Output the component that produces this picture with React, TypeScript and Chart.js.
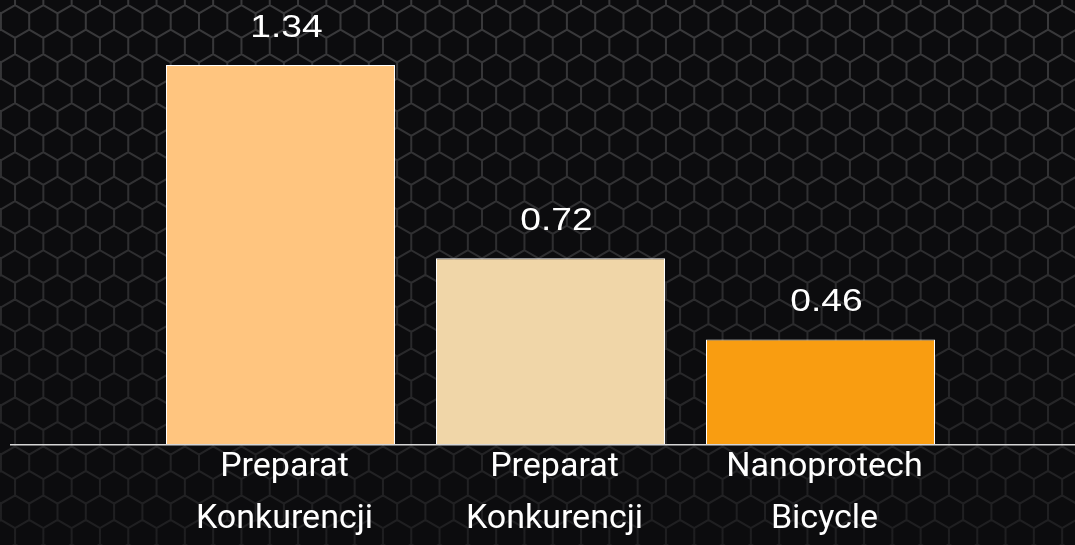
import React, { useEffect, useRef } from 'react';
import { Chart, registerables } from 'chart.js';

Chart.register(...registerables);

// ---- data ----
const categories: string[][] = [
  ['Preparat', 'Konkurencji'],
  ['Preparat', 'Konkurencji'],
  ['Nanoprotech', 'Bicycle'],
];
const values: number[] = [1.34, 0.72, 0.46];
const barColors: string[] = ['#FFC57F', '#F0D6A8', '#F99D11'];
const yMin = 0.125;
const yMax = 1.5;

// ---- decorative hexagon background ----
const hexBackground = {
  id: 'hexBackground',
  beforeDraw(chart: any) {
    const { ctx, width, height } = chart;
    ctx.save();
    ctx.fillStyle = '#0c0c0e';
    ctx.fillRect(0, 0, width, height);
    const W = 28.3;
    const a = W / Math.sqrt(3);
    const H = 1.5 * a;
    const x0 = 0.9;
    const y0 = -3;
    const grad = ctx.createLinearGradient(0, 0, 0, height);
    grad.addColorStop(0, '#3a3a3c');
    grad.addColorStop(0.55, '#2c2c2e');
    grad.addColorStop(1, '#1e1e20');
    ctx.strokeStyle = grad;
    ctx.lineWidth = 2;
    ctx.beginPath();
    for (let r = -1; y0 + r * H < height + a; r++) {
      const cy = y0 + r * H;
      const off = Math.abs(r) % 2 === 1 ? W / 2 : 0;
      for (let c = -1; x0 + off + c * W < width + W; c++) {
        const cx = x0 + off + c * W;
        ctx.moveTo(cx, cy - a);
        ctx.lineTo(cx + W / 2, cy - a / 2);
        ctx.lineTo(cx + W / 2, cy + a / 2);
        ctx.lineTo(cx, cy + a);
        ctx.lineTo(cx - W / 2, cy + a / 2);
        ctx.lineTo(cx - W / 2, cy - a / 2);
        ctx.closePath();
      }
    }
    ctx.stroke();
    ctx.restore();
  },
  afterDatasetsDraw(chart: any) {
    const { ctx, chartArea, width } = chart;
    ctx.save();
    // baseline across the picture
    ctx.strokeStyle = '#d6d6d6';
    ctx.lineWidth = 1.5;
    ctx.beginPath();
    ctx.moveTo(10, chartArea.bottom + 0.75);
    ctx.lineTo(width, chartArea.bottom + 0.75);
    ctx.stroke();
    // value labels
    const meta = chart.getDatasetMeta(0);
    meta.data.forEach((bar: any, i: number) => {
      ctx.save();
      ctx.font = '31px "Liberation Sans", Arial, sans-serif';
      ctx.fillStyle = '#ffffff';
      ctx.textAlign = 'center';
      ctx.textBaseline = 'alphabetic';
      ctx.translate(bar.x + 6, bar.y - 28);
      ctx.scale(1.2, 1);
      ctx.fillText(values[i].toFixed(2), 0, 0);
      ctx.restore();
    });
    ctx.restore();
  },
};

export default function App() {
  const canvasRef = useRef<HTMLCanvasElement | null>(null);

  useEffect(() => {
    if (!canvasRef.current) return;
    const chart = new Chart(canvasRef.current, {
      type: 'bar',
      data: {
        labels: categories,
        datasets: [
          {
            data: values,
            backgroundColor: barColors,
            borderColor: '#ffffff',
            borderWidth: 1,
            categoryPercentage: 1,
            barPercentage: 229 / 270,
          },
        ],
      },
      options: {
        animation: false,
        responsive: true,
        maintainAspectRatio: false,
        layout: { padding: { left: 145.5, right: 119.5, top: 15, bottom: 0 } },
        plugins: {
          legend: { display: false },
          tooltip: { enabled: false },
          title: { display: false },
        },
        scales: {
          y: { display: false, min: yMin, max: yMax },
          x: {
            grid: { display: false, drawTicks: false },
            border: { display: false },
            ticks: {
              color: '#ffffff',
              font: { family: 'Roboto', size: 34, weight: '400', lineHeight: 52 / 34 },
              padding: -3,
              labelOffset: 4,
              maxRotation: 0,
              autoSkip: false,
            },
            afterFit: (scale: any) => {
              scale.height = 101;
            },
          },
        },
      },
      plugins: [hexBackground],
    });
    return () => chart.destroy();
  }, []);

  return (
    <div style={{ position: 'fixed', left: 0, top: 0, width: 1075, height: 545 }}>
      <canvas ref={canvasRef} />
    </div>
  );
}
